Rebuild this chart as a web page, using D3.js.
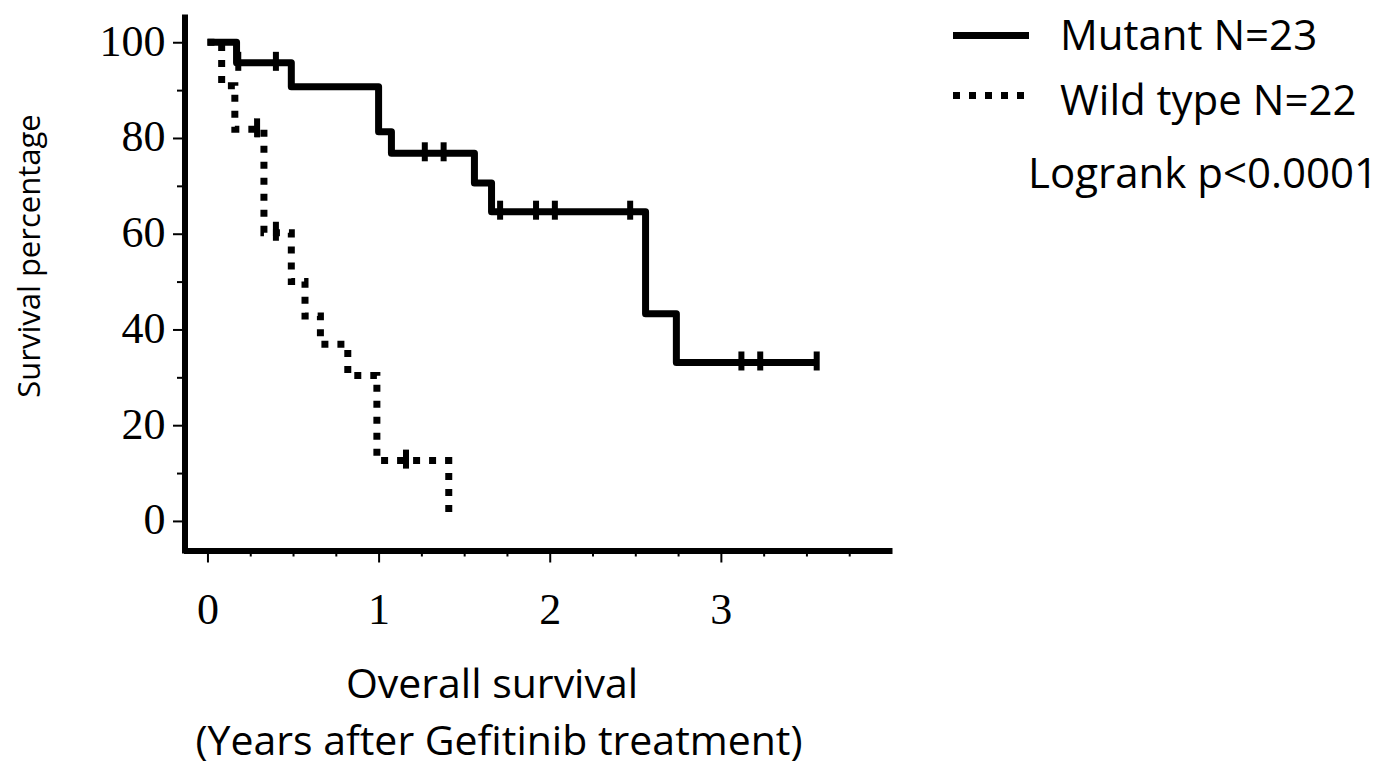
<html lang="en">
<head>
  <meta charset="UTF-8"/>
  <title>Overall survival by EGFR status</title>
  <script src="https://d3js.org/d3.v7.min.js"></script>
  <style>
    body {
      margin: 0;
      background: #fff;
    }

    svg {
      width: 1384px;
      height: 779px;
      display: block;
    }

    .axis path.domain {
      stroke: #000;
      stroke-width: 6;
    }

    .axis .tick line {
      stroke: #000;
      stroke-width: 2;
    }

    .axis text {
      font-family: 'Liberation Serif', 'Times New Roman', serif;
      font-size: 44px;
      fill: #000;
    }

    .minor path.domain {
      display: none;
    }

    .curve {
      fill: none;
      stroke: #000;
      stroke-width: 7;
    }

    .curve.wild {
      stroke-dasharray: 7 9;
    }

    .censor {
      stroke: #000;
      stroke-width: 6;
    }

    text.label {
      font-family: 'Open Sans', sans-serif;
      font-size: 41px;
      fill: #000;
    }

    text.ylabel {
      font-size: 31px;
    }

    text.legend {
      font-family: 'Open Sans', sans-serif;
      font-size: 42px;
      fill: #000;
    }
  </style>
</head>

<body>
  <svg></svg>

  <script>
    // Kaplan-Meier steps (years, survival %)
    const mutantTime = [0, 0.17, 0.49, 1.0, 1.075, 1.56, 1.66, 2.56, 2.74, 3.56];
    const mutantSurv = [100, 95.7, 90.7, 81.3, 76.8, 70.6, 64.6, 43.3, 33.1, 33.1];
    const mutantCensor = [0.18, 0.40, 1.27, 1.38, 1.71, 1.92, 2.03, 2.47, 3.12, 3.23, 3.56];

    const wildTime = [0, 0.083, 0.16, 0.33, 0.49, 0.57, 0.66, 0.82, 0.99, 1.41];
    const wildSurv = [100, 90.9, 81.8, 60.2, 50.0, 42.8, 36.9, 30.4, 12.6, 0];
    const wildCensor = [0.29, 0.40, 1.16];

    const xTicks = [0, 1, 2, 3];
    const xMinorTicks = [0.25, 0.5, 0.75, 1.25, 1.5, 1.75, 2.25, 2.5, 2.75, 3.25, 3.5, 3.75];
    const yTicks = [0, 20, 40, 60, 80, 100];
    const yMinorTicks = [10, 30, 50, 70, 90];

    const svg = d3.select('svg');

    const x = d3.scaleLinear()
      .domain([-0.14, 4])
      .range([183.5, 892]);

    const y = d3.scaleLinear()
      .domain([-6.7, 105.9])
      .range([553, 14]);

    const xAxisY = 550.5;
    const yAxisX = 184.5;

    // minor ticks first so the axis lines sit on top
    svg.append('g')
      .attr('class', 'axis minor')
      .attr('transform', `translate(0, ${xAxisY})`)
      .call(d3.axisBottom(x).tickValues(xMinorTicks).tickSize(6).tickFormat(''));

    svg.append('g')
      .attr('class', 'axis minor')
      .attr('transform', `translate(${yAxisX}, 0)`)
      .call(d3.axisLeft(y).tickValues(yMinorTicks).tickSize(7.5).tickFormat(''));

    const xAxis = svg.append('g')
      .attr('class', 'axis')
      .attr('transform', `translate(0, ${xAxisY})`)
      .call(d3.axisBottom(x).tickValues(xTicks).tickSize(12).tickSizeOuter(0).tickFormat(d3.format('d')));

    xAxis.selectAll('text')
      .attr('y', 73)
      .attr('dy', 0);

    const yAxis = svg.append('g')
      .attr('class', 'axis')
      .attr('transform', `translate(${yAxisX}, 0)`)
      .call(d3.axisLeft(y).tickValues(yTicks).tickSize(11.5).tickSizeOuter(0).tickFormat(d3.format('d')));

    yAxis.selectAll('text')
      .attr('x', -19)
      .attr('y', 13)
      .attr('dy', 0);

    // survival curves
    const line = d3.line()
      .x((d) => x(d.t))
      .y((d) => y(d.s))
      .curve(d3.curveStepAfter);

    const mutant = mutantTime.map((t, i) => ({ t: t, s: mutantSurv[i] }));
    const wild = wildTime.map((t, i) => ({ t: t, s: wildSurv[i] }));

    const survAt = (data, t) => {
      let s = data[0].s;
      data.forEach((d) => { if (d.t <= t) s = d.s; });
      return s;
    };

    svg.append('path')
      .datum(mutant)
      .attr('class', 'curve mutant')
      .attr('stroke-linejoin', 'round')
      .attr('d', line);

    svg.append('path')
      .datum(wild)
      .attr('class', 'curve wild')
      .attr('d', line);

    // censor marks
    const censors = mutantCensor.map((t) => ({ t: t, s: survAt(mutant, t) }))
      .concat(wildCensor.map((t) => ({ t: t, s: survAt(wild, t) })));

    svg.selectAll('.censor')
      .data(censors)
      .enter()
      .append('line')
      .attr('class', 'censor')
      .attr('x1', (d) => x(d.t))
      .attr('x2', (d) => x(d.t))
      .attr('y1', (d) => y(d.s) - 11)
      .attr('y2', (d) => y(d.s) + 8);

    // axis titles
    svg.append('text')
      .attr('class', 'label ylabel')
      .attr('transform', 'translate(40, 256) rotate(-90)')
      .attr('text-anchor', 'middle')
      .text('Survival percentage');

    svg.append('text')
      .attr('class', 'label')
      .attr('x', 492)
      .attr('y', 698)
      .attr('text-anchor', 'middle')
      .text('Overall survival');

    svg.append('text')
      .attr('class', 'label')
      .attr('x', 499)
      .attr('y', 755)
      .attr('text-anchor', 'middle')
      .text('(Years after Gefitinib treatment)');

    // legend
    svg.append('line')
      .attr('class', 'curve')
      .attr('x1', 953).attr('x2', 1029)
      .attr('y1', 35.5).attr('y2', 35.5);

    svg.append('line')
      .attr('class', 'curve wild')
      .attr('x1', 953).attr('x2', 1029)
      .attr('y1', 95.5).attr('y2', 95.5);

    svg.append('text').attr('class', 'legend').attr('x', 1060).attr('y', 50).text('Mutant N=23');
    svg.append('text').attr('class', 'legend').attr('x', 1060).attr('y', 115).text('Wild type N=22');
    svg.append('text').attr('class', 'legend').attr('x', 1028).attr('y', 188).text('Logrank p<0.0001');
  </script>
</body>
</html>
